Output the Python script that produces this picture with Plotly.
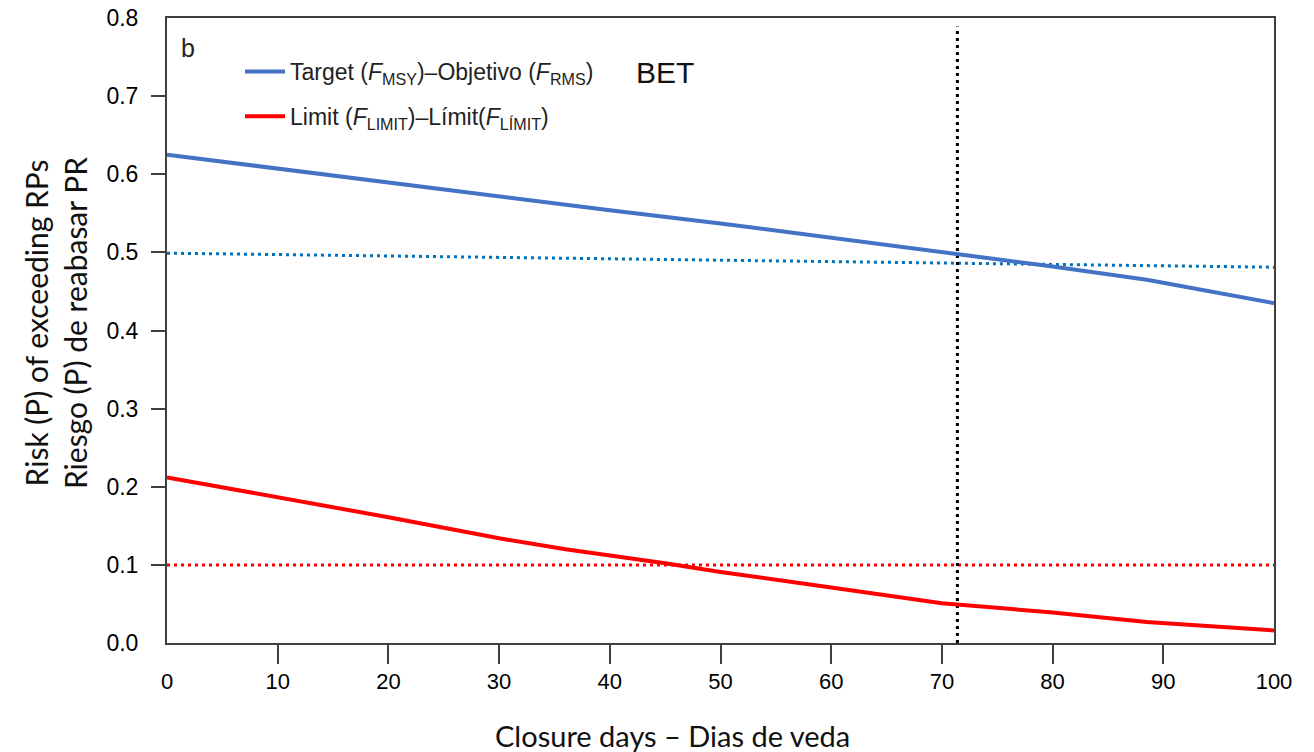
import plotly.graph_objects as go

# Data
days_target = [0, 10, 20, 30, 40, 50, 60, 70, 80, 88.5, 100]
risk_target = [0.625, 0.607, 0.589, 0.572, 0.554, 0.537, 0.519, 0.501, 0.482, 0.465, 0.435]

days_limit = [0, 10, 20, 30, 36, 45, 50, 60, 70, 80, 88.5, 100]
risk_limit = [0.212, 0.187, 0.161, 0.134, 0.120, 0.102, 0.091, 0.071, 0.051, 0.039, 0.027, 0.016]

ref_target_days = [0, 100]
ref_target_risk = [0.499, 0.481]
ref_limit_days = [0, 100]
ref_limit_risk = [0.10, 0.10]

closure_ref_days = [71.4, 71.4]
closure_ref_risk = [0.0, 0.789]

x_ticks = [0, 10, 20, 30, 40, 50, 60, 70, 80, 90, 100]
y_ticks = [0.0, 0.1, 0.2, 0.3, 0.4, 0.5, 0.6, 0.7, 0.8]
y_ticklabels = ["0.0", "0.1", "0.2", "0.3", "0.4", "0.5", "0.6", "0.7", "0.8"]

BLUE = "#4472C4"
RED = "#FF0000"
BLUE_DOT = "#0070C0"
AXIS = "#404040"

W, H = 1314, 752
PL, PR, PT, PB = 167, 1274, 18, 643  # plot area in page pixels
PW, PHt = PR - PL, PB - PT

def px(xp):
    return (xp - PL) / PW

def py(yp):
    return (PB - yp) / PHt

fig = go.Figure()

fig.add_trace(go.Scatter(
    x=ref_target_days, y=ref_target_risk, mode="lines",
    line=dict(color=BLUE_DOT, width=3, dash="3px,4px"), showlegend=False, hoverinfo="skip"))
fig.add_trace(go.Scatter(
    x=ref_limit_days, y=ref_limit_risk, mode="lines",
    line=dict(color=RED, width=3, dash="3px,4px"), showlegend=False, hoverinfo="skip"))
fig.add_trace(go.Scatter(
    x=closure_ref_days, y=closure_ref_risk, mode="lines",
    line=dict(color="black", width=3, dash="3px,4px"), showlegend=False, hoverinfo="skip"))

fig.add_trace(go.Scatter(
    x=days_target, y=risk_target, mode="lines",
    line=dict(color=BLUE, width=4),
    name="Target (<i>F</i><sub>MSY</sub>)–Objetivo (<i>F</i><sub>RMS</sub>)",
    legendgroup="a"))
fig.add_trace(go.Scatter(
    x=days_limit, y=risk_limit, mode="lines",
    line=dict(color=RED, width=4),
    name="Limit (<i>F</i><sub>LIMIT</sub>)–Límit(<i>F</i><sub>LÍMIT</sub>)",
    legendgroup="b"))

fig.update_layout(
    width=W, height=H,
    margin=dict(l=PL, r=W - PR, t=PT, b=H - PB),
    plot_bgcolor="white", paper_bgcolor="white",
    font=dict(family="Liberation Sans, Arial, sans-serif", color="black"),
    legend=dict(
        x=px(240), y=py(50), xanchor="left", yanchor="top",
        bgcolor="rgba(0,0,0,0)", borderwidth=0, itemwidth=40,
        font=dict(size=23, family="Liberation Sans, Arial, sans-serif", color="#222"),
        traceorder="grouped", tracegroupgap=12,
    ),
    xaxis=dict(
        range=[0, 100], tickmode="array", tickvals=x_ticks,
        ticks="", showgrid=False, zeroline=False, automargin=False,
        showline=True, linecolor=AXIS, linewidth=2, mirror=True,
        tickfont=dict(size=22, family="Liberation Sans Narrow, Liberation Sans, Arial"),
        ticklabelstandoff=18,
        minor=dict(tickmode="array", tickvals=x_ticks[1:-1], ticks="outside",
                   ticklen=19, tickwidth=2, tickcolor=AXIS, showgrid=False),
    ),
    yaxis=dict(
        range=[0, 0.8], tickmode="array", tickvals=y_ticks, ticktext=y_ticklabels,
        ticks="", showgrid=False, zeroline=False, automargin=False,
        showline=True, linecolor=AXIS, linewidth=2, mirror=True,
        tickfont=dict(size=23, family="Liberation Sans, Arial"),
        ticklabelstandoff=22, ticklabeloverflow="allow",
        minor=dict(tickmode="array", tickvals=y_ticks[1:-1], ticks="outside",
                   ticklen=14, tickwidth=2, tickcolor=AXIS, showgrid=False),
    ),
)

fig.add_annotation(text="b", xref="paper", yref="paper", x=px(179), y=py(48),
                   xanchor="left", yanchor="middle", showarrow=False,
                   font=dict(size=25, family="Liberation Sans, Arial", color="#222"))
fig.add_annotation(text="BET", xref="paper", yref="paper", x=px(634), y=py(72),
                   xanchor="left", yanchor="middle", showarrow=False,
                   font=dict(size=30, family="Liberation Sans, Arial", color="#111"))
fig.add_annotation(text="Closure days – Dias de veda", xref="paper", yref="paper",
                   x=px(672), y=py(735), xanchor="center", yanchor="middle",
                   showarrow=False, font=dict(size=29, family="Lato, Open Sans, sans-serif", color="#111"))
fig.add_annotation(text="Risk (P) of exceeding RPs<br>Riesgo (P) de reabasar PR", xref="paper", yref="paper",
                   x=px(55), y=py(323), xanchor="center", yanchor="middle",
                   textangle=-90, showarrow=False,
                   font=dict(size=30, family="Lato, Open Sans, sans-serif", color="#111"))

# remove the browser's default 8px body margin so the figure fills the window exactly
fig.write_html("out.html", config={"displayModeBar": False},
               post_script="document.body.style.margin='0';")
